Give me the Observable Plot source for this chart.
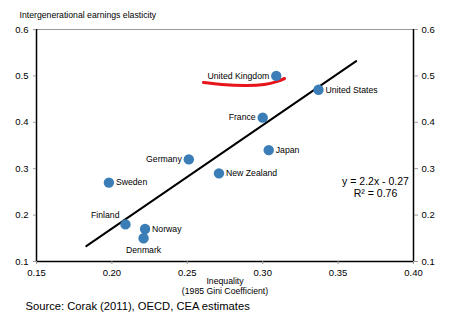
<!DOCTYPE html>
<html>
<head>
<meta charset="utf-8">
<script src="https://cdn.jsdelivr.net/npm/d3@7"></script>
<script src="https://cdn.jsdelivr.net/npm/@observablehq/plot@0.6"></script>
<style>
  html, body { margin: 0; padding: 0; background: #fff; }
  #chart { position: relative; width: 455px; height: 322px; font-family: "Liberation Sans", Arial, sans-serif; }
  #chart svg { font-family: "Liberation Sans", Arial, sans-serif; }
</style>
</head>
<body>
<div id="chart"></div>
<script>
// Data
const countries = ["United Kingdom","United States","France","Japan","Germany","New Zealand","Sweden","Finland","Norway","Denmark"];
const gini      = [0.309, 0.337, 0.300, 0.304, 0.251, 0.271, 0.198, 0.209, 0.222, 0.221];
const elasticity= [0.50, 0.47, 0.41, 0.34, 0.32, 0.29, 0.27, 0.18, 0.17, 0.15];
const labelSide = ["left","right","left","right","left","right","right","above","right","below"];

const trendX = [0.183, 0.362];
const trendY = [0.133, 0.532];

const scribbleX = [0.2607, 0.2720, 0.2886, 0.3019, 0.3098, 0.3145];
const scribbleY = [0.4858, 0.4815, 0.4782, 0.4804, 0.4879, 0.4944];

const xTicks = [0.15, 0.20, 0.25, 0.30, 0.35, 0.40];
const yTicks = [0.1, 0.2, 0.3, 0.4, 0.5, 0.6];

const titleText = "Intergenerational earnings elasticity";
const xLabel1 = "Inequality";
const xLabel2 = "(1985 Gini Coefficient)";
const sourceText = "Source: Corak (2011), OECD, CEA estimates";
const eq1 = "y = 2.2x - 0.27";
const eq2 = "R² = 0.76";

const pts = countries.map((c, i) => ({c, x: gini[i], y: elasticity[i], side: labelSide[i]}));
const trend = trendX.map((x, i) => ({x, y: trendY[i]}));
const scribble = scribbleX.map((x, i) => ({x, y: scribbleY[i]}));

const bySide = s => pts.filter(d => d.side === s);
const LBL = 8.7;

const plot = Plot.plot({
  width: 455,
  height: 322,
  marginLeft: 36,
  marginRight: 42,
  marginTop: 29,
  marginBottom: 61,
  style: {fontSize: "9.5px", fontFamily: "Liberation Sans, Arial, sans-serif", color: "#000", background: "#fff"},
  x: {domain: [0.15, 0.40], ticks: xTicks},
  y: {domain: [0.1, 0.6], ticks: yTicks},
  marks: [
    // frame lines
    Plot.ruleY([0.6], {stroke: "#999", strokeWidth: 1}),
    Plot.ruleX([0.15], {stroke: "#000", strokeWidth: 1.5}),
    Plot.ruleX([0.40], {stroke: "#000", strokeWidth: 1.5}),
    Plot.ruleY([0.1], {stroke: "#000", strokeWidth: 1.5}),
    Plot.axisX({ticks: xTicks, tickFormat: d3.format(".2f"), tickSize: 3, tickPadding: 5, stroke: "#999", label: null, fontSize: 9.5}),
    Plot.axisY({anchor: "left", ticks: yTicks, tickFormat: d3.format(".1f"), tickSize: 3, tickPadding: 5, stroke: "#999", label: null, fontSize: 9.5}),
    Plot.axisY({anchor: "right", ticks: yTicks, tickFormat: d3.format(".1f"), tickSize: 4, tickPadding: 4, stroke: "#999", label: null, fontSize: 9.5}),
    // trend line
    Plot.line(trend, {x: "x", y: "y", stroke: "#000", strokeWidth: 2}),
    // red hand-drawn underline
    Plot.line(scribble, {x: "x", y: "y", stroke: "#e8141b", strokeWidth: 3, curve: "basis"}),
    // points
    Plot.dot(pts, {x: "x", y: "y", r: 5.2, fill: "#3b7db6", stroke: "none"}),
    // labels
    Plot.text(bySide("left"), {x: "x", y: "y", text: "c", textAnchor: "end", dx: -7, fontSize: LBL}),
    Plot.text(bySide("right"), {x: "x", y: "y", text: "c", textAnchor: "start", dx: 7, fontSize: LBL}),
    Plot.text(bySide("above"), {x: "x", y: "y", text: "c", textAnchor: "end", dx: -6, dy: -9, fontSize: LBL}),
    Plot.text(bySide("below"), {x: "x", y: "y", text: "c", textAnchor: "middle", dy: 12, fontSize: LBL}),
    // equation
    Plot.text([eq1], {frameAnchor: "top-right", dx: -38, dy: 148, textAnchor: "middle", fontSize: 10.5, text: d => d}),
    Plot.text([eq2], {frameAnchor: "top-right", dx: -38, dy: 160, textAnchor: "middle", fontSize: 10.5, text: d => d}),
    // title and x label
    Plot.text([titleText], {frameAnchor: "top-left", dx: -17, dy: -18, textAnchor: "start", fontSize: LBL, text: d => d}),
    Plot.text([xLabel1], {frameAnchor: "bottom", dy: 22, fontSize: LBL, text: d => d}),
    Plot.text([xLabel2], {frameAnchor: "bottom", dy: 32, fontSize: LBL, text: d => d}),
    Plot.text([sourceText], {frameAnchor: "bottom-left", dx: -11, dy: 48, textAnchor: "start", fontSize: 11.2, text: d => d})
  ]
});
document.getElementById("chart").appendChild(plot);
</script>
</body>
</html>
